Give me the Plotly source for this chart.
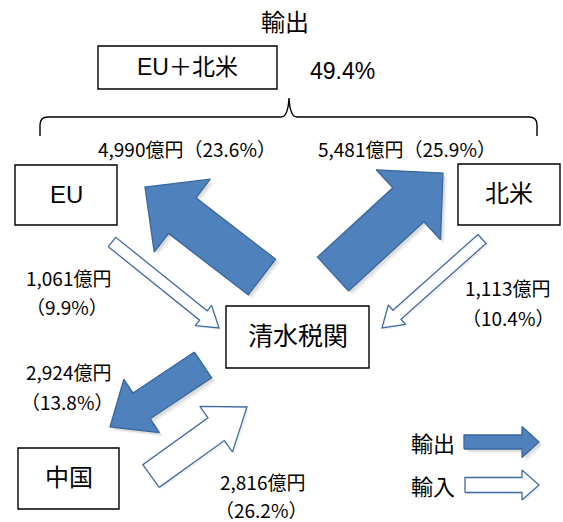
import numpy as np
import plotly.graph_objects as go

# ---------------- data ----------------
title_text = "輸出"
combined_label = "EU＋北米"
combined_share = 49.4

regions = ["EU", "北米", "中国"]
hub = "清水税関"
export_values = [4990, 5481, 2924]      # 億円
export_shares = [23.6, 25.9, 13.8]      # %
import_values = [1061, 1113, 2816]      # 億円
import_shares = [9.9, 10.4, 26.2]       # %
legend_labels = ["輸出", "輸入"]

# ---------------- styles ----------------
W, H = 563, 522
FONT = "Noto Sans CJK JP"
BOX_FONT = "Liberation Sans, Noto Sans CJK JP"
BLUE = "#4F81BD"
BLUE_LINE = "#3A679C"
WHITE_LINE = "#3F6CA3"

fig = go.Figure()


def arrow_xy(tail, tip, w, hw, hl):
    T = np.array(tail, float)
    P = np.array(tip, float)
    d = (P - T) / np.linalg.norm(P - T)
    n = np.array([-d[1], d[0]])
    B = P - d * hl
    pts = [T + n * w / 2, B + n * w / 2, B + n * hw / 2, P,
           B - n * hw / 2, B - n * w / 2, T - n * w / 2, T + n * w / 2]
    return [p[0] for p in pts], [p[1] for p in pts]


def add_arrow(tail, tip, w, hw, hl, filled):
    xs, ys = arrow_xy(tail, tip, w, hw, hl)
    if filled:
        for off, a in [(4, 0.06), (2.5, 0.08)]:
            fig.add_trace(go.Scatter(x=[x + off for x in xs], y=[y + off for y in ys],
                                     mode="lines", fill="toself",
                                     fillcolor=f"rgba(0,0,0,{a})",
                                     line=dict(width=0, color="rgba(0,0,0,0)"),
                                     hoverinfo="skip", showlegend=False))
    else:
        fig.add_trace(go.Scatter(x=[x + 2 for x in xs], y=[y + 2 for y in ys],
                                 mode="lines", fill="toself",
                                 fillcolor="rgba(0,0,0,0.06)",
                                 line=dict(width=0, color="rgba(0,0,0,0)"),
                                 hoverinfo="skip", showlegend=False))
    fig.add_trace(go.Scatter(x=xs, y=ys, mode="lines", fill="toself",
                             fillcolor=BLUE if filled else "white",
                             line=dict(width=1.3, color=BLUE_LINE if filled else WHITE_LINE),
                             hoverinfo="skip", showlegend=False))


# export arrows (hub -> region)
add_arrow((262, 277), (145, 187), 45, 92, 47, True)     # EU
add_arrow((333, 274), (443, 173), 46, 95, 47, True)     # 北米
add_arrow((203, 365), (110, 427), 31, 64, 38, True)     # 中国
# import arrows (region -> hub)
add_arrow((112, 242), (219, 328), 12, 26, 20, False)    # EU
add_arrow((482, 239), (382, 328), 12, 26, 20, False)    # 北米
add_arrow((151, 476), (247, 407), 28, 56, 38, False)    # 中国
# legend arrows
add_arrow((464, 442), (539, 442), 14, 31, 17, True)
add_arrow((465, 485), (539, 485), 15, 30, 17, False)

# ---------------- boxes ----------------
boxes = [
    (98, 46, 277, 89, combined_label, 23),
    (15, 165, 117, 225, regions[0], 24),
    (458, 164, 560, 225, regions[1], 24),
    (226, 306, 369, 368, hub, 25),
    (18, 448, 119, 509, regions[2], 24),
]
shapes = []
annotations = []
for x0, y0, x1, y1, lab, fs in boxes:
    shapes.append(dict(type="rect", x0=x0, y0=y0, x1=x1, y1=y1, xref="x", yref="y",
                       line=dict(color="black", width=1.4), fillcolor="white", layer="above"))
    annotations.append(dict(x=(x0 + x1) / 2, y=(y0 + y1) / 2 - 1, text=lab, showarrow=False,
                            font=dict(family=BOX_FONT, size=fs, color="black"),
                            xanchor="center", yanchor="middle"))

# brace
shapes.append(dict(type="path", xref="x", yref="y",
                   path="M 40,136 L 40,125 Q 40,117 48,117 L 281,117 Q 288,117 289,98 "
                        "Q 290,117 297,117 L 529,117 Q 537,117 537,125 L 537,136",
                   line=dict(color="black", width=1.4)))


def amt(v):
    return f"{v:,}億円"


def txt(x, y, s, size=19, family=FONT):
    annotations.append(dict(x=x, y=y, text=s, showarrow=False,
                            font=dict(family=family, size=size, color="black"),
                            xanchor="center", yanchor="middle"))


txt(285, 20, title_text, 24)
txt(342, 71, f"{combined_share}%", 23, BOX_FONT)
txt(187, 148, f"{amt(export_values[0])}（{export_shares[0]}%）", 19)
txt(407, 148, f"{amt(export_values[1])}（{export_shares[1]}%）", 19)
txt(68, 277, amt(import_values[0]))
txt(67, 306, f"（{import_shares[0]}%）")
txt(507, 287, amt(import_values[1]))
txt(508, 317, f"（{import_shares[1]}%）")
txt(68, 371, amt(export_values[2]))
txt(67, 401, f"（{export_shares[2]}%）")
txt(262, 481, amt(import_values[2]))
txt(261, 509, f"（{import_shares[2]}%）")
txt(433, 442, legend_labels[0], 22)
txt(433, 485, legend_labels[1], 22)

fig.update_layout(
    width=W, height=H, autosize=False,
    margin=dict(l=0, r=0, t=0, b=0),
    paper_bgcolor="white", plot_bgcolor="white",
    xaxis=dict(range=[0, W], visible=False, fixedrange=True),
    yaxis=dict(range=[H, 0], visible=False, fixedrange=True),
    shapes=shapes, annotations=annotations, showlegend=False,
)
fig.write_html("out.html", config={"displayModeBar": False},
               post_script="document.body.style.margin='0';document.body.style.overflow='hidden';")
